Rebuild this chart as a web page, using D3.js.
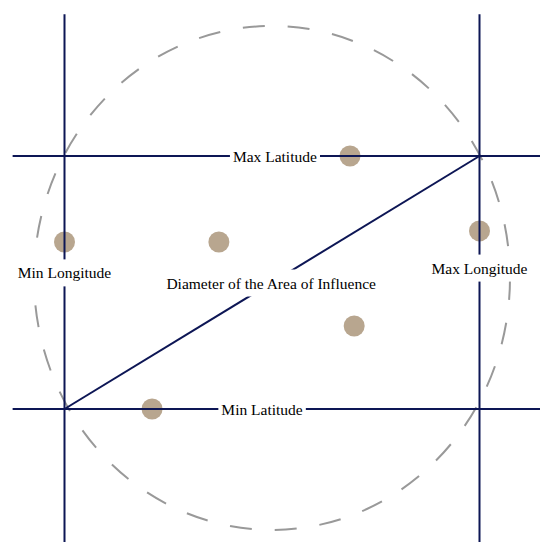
<!DOCTYPE html>
<html>
<head>
<meta charset="utf-8">
<script src="https://cdn.jsdelivr.net/npm/d3@7"></script>
<style>
  body { margin: 0; background: #fff; }
  text { font-family: "Liberation Serif", "Times New Roman", serif; }
</style>
</head>
<body>
<div id="chart"></div>
<script>
// SVG size
var svgWidth = 540;
var svgHeight = 542;

// bounds in normalised units: 0 = min, 1 = max
var lonBounds = [0, 1];
var latBounds = [0, 1];
// how far the guide lines run past the bounds
var lonLineExtent = [-0.125, 1.15];
var latLineExtent = [-0.53, 1.56];

// sample locations
var pointLon = [0.0, 0.372, 0.688, 1.0, 0.698, 0.211];
var pointLat = [0.66, 0.66, 1.0, 0.704, 0.328, 0.0];

// area of influence (centre and radii, same units)
var areaCenter = [0.5, 0.518];
var areaRadius = [0.5735, 0.996];

// labels
var labelText = ["Max Latitude", "Min Latitude", "Min Longitude", "Max Longitude", "Diameter of the Area of Influence"];
var labelLon = [0.507, 0.476, 0.0, 1.0, 0.498];
var labelLat = [1.0, 0.0, 0.538, 0.557, 0.498];

var svg = d3.select("#chart")
  .append("svg")
  .attr("width", svgWidth)
  .attr("height", svgHeight);

var x = d3.scaleLinear().domain(lonBounds).range([64.5, 479.5]);
var y = d3.scaleLinear().domain(latBounds).range([409, 156]);

// dashed area of influence
svg.append("ellipse")
  .attr("cx", x(areaCenter[0]))
  .attr("cy", y(areaCenter[1]))
  .attr("rx", x(areaRadius[0]) - x(0))
  .attr("ry", y(0) - y(areaRadius[1]))
  .attr("fill", "none")
  .attr("stroke", "#999")
  .attr("stroke-width", 2)
  .attr("stroke-dasharray", "22,23");

// points
var points = pointLon.map((d, i) => ({lon: d, lat: pointLat[i]}));
svg.selectAll(".pt")
  .data(points)
  .enter().append("circle")
  .attr("class", "pt")
  .attr("cx", d => x(d.lon))
  .attr("cy", d => y(d.lat))
  .attr("r", 10.5)
  .attr("fill", "#b8a68f");

var lineColor = "#0d1655";

// longitude lines
lonBounds.forEach(function(lon) {
  svg.append("line")
    .attr("x1", x(lon)).attr("x2", x(lon))
    .attr("y1", y(latLineExtent[0])).attr("y2", y(latLineExtent[1]))
    .attr("stroke", lineColor).attr("stroke-width", 2);
});

// latitude lines
latBounds.forEach(function(lat) {
  svg.append("line")
    .attr("x1", x(lonLineExtent[0])).attr("x2", x(lonLineExtent[1]))
    .attr("y1", y(lat)).attr("y2", y(lat))
    .attr("stroke", lineColor).attr("stroke-width", 2);
});

// diameter
svg.append("line")
  .attr("x1", x(lonBounds[0])).attr("y1", y(latBounds[0]))
  .attr("x2", x(lonBounds[1])).attr("y2", y(latBounds[1]))
  .attr("stroke", lineColor).attr("stroke-width", 2);

// labels with white backgrounds
labelText.forEach(function(t, i) {
  var g = svg.append("g");
  var txt = g.append("text")
    .attr("x", x(labelLon[i]))
    .attr("y", y(labelLat[i]))
    .attr("text-anchor", "middle")
    .attr("dominant-baseline", "central")
    .attr("font-size", "15.5px")
    .attr("fill", "#000")
    .text(t);
  var bb = txt.node().getBBox();
  g.insert("rect", "text")
    .attr("x", bb.x - 3)
    .attr("y", bb.y - 5)
    .attr("width", bb.width + 6)
    .attr("height", bb.height + 10)
    .attr("fill", "#fff");
});
</script>
</body>
</html>
